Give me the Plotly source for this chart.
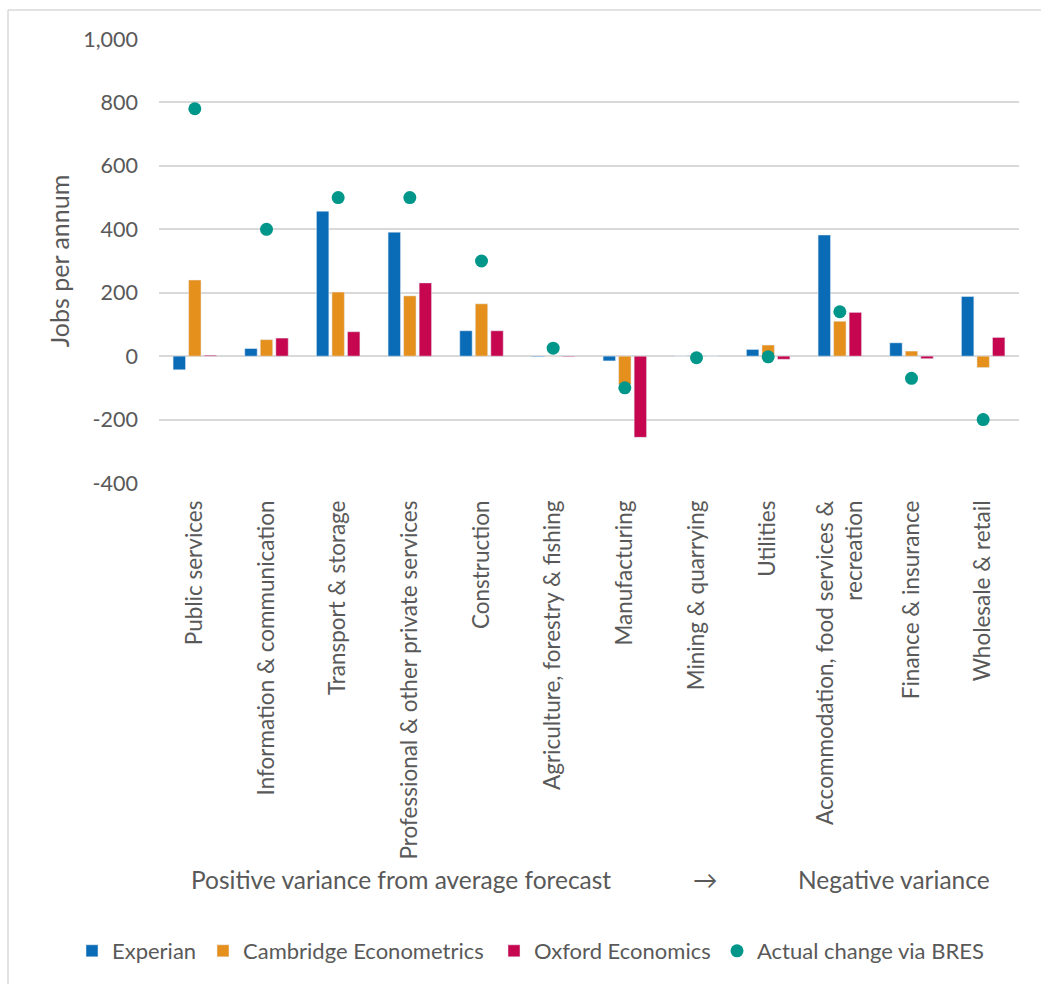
import plotly.graph_objects as go

# Sectors ordered from largest positive to largest negative variance
sectors = [
    "Public services",
    "Information & communication",
    "Transport & storage",
    "Professional & other private services",
    "Construction",
    "Agriculture, forestry & fishing",
    "Manufacturing",
    "Mining & quarrying",
    "Utilities",
    "Accommodation, food services &<br>recreation",
    "Finance & insurance",
    "Wholesale & retail",
]

experian = [-43, 24, 457, 391, 80, -2, -15, 0, 21, 382, 42, 188]
cambridge = [240, 52, 202, 190, 165, -1, -90, 0, 35, 110, 16, -36]
oxford = [3, 57, 77, 231, 80, -2, -256, 0, -10, 138, -8, 59]
bres_actual = [780, 400, 500, 500, 300, 25, -100, -5, -2, 140, -70, -200]

y_ticks = [-400, -200, 0, 200, 400, 600, 800, 1000]
y_tick_text = ["-400", "-200", "0", "200", "400", "600", "800", "1,000"]

FONT = "Lato"
GREY = "#595959"
GRID = "#D9D9D9"

# plot area in pixels: x 159..1019, y 39..483
L, R, T, B = 159, 1019, 39, 483


def px_x(p):
    return (p - L) / (R - L)


def px_y(p):
    return (B - p) / (B - T)


fig = go.Figure()
fig.add_bar(name="Experian", x=sectors, y=experian, marker_color="#0A6BB6",
            legend="legend")
fig.add_bar(name="Cambridge Econometrics", x=sectors, y=cambridge,
            marker_color="#E5901D", legend="legend2")
fig.add_bar(name="Oxford Economics", x=sectors, y=oxford, marker_color="#C6074F",
            legend="legend3")
fig.add_scatter(
    name="Actual change via BRES", x=sectors, y=bres_actual, mode="markers",
    marker=dict(color="#00968A", size=13), legend="legend4",
)

annotations = [
    dict(text="Positive variance from average forecast", x=px_x(401), y=px_y(880)),
    dict(text="\u2192", x=px_x(705), y=px_y(880)),
    dict(text="Negative variance", x=px_x(894), y=px_y(880)),
]
for a in annotations:
    a.update(xref="paper", yref="paper", showarrow=False, xanchor="center",
             yanchor="middle", font=dict(family=FONT, size=24.5, color=GREY))

shapes = [
    dict(type="line", xref="paper", yref="paper", x0=px_x(8), x1=px_x(1041),
         y0=px_y(10), y1=px_y(10), line=dict(color=GRID, width=1.5)),
    dict(type="line", xref="paper", yref="paper", x0=px_x(8), x1=px_x(8),
         y0=px_y(10), y1=px_y(984), line=dict(color=GRID, width=1.5)),
]

# one legend box per series so each entry sits at its own position
legend_text_start = [112, 243, 534, 757]
legends = {}
for i, xs in enumerate(legend_text_start):
    key = "legend" if i == 0 else f"legend{i + 1}"
    legends[key] = dict(
        orientation="h", x=px_x(xs - 40), xanchor="left", y=px_y(951),
        yanchor="middle", font=dict(family=FONT, size=22, color=GREY),
        itemwidth=30, bgcolor="rgba(0,0,0,0)", borderwidth=0,
    )

fig.update_layout(
    width=1041, height=984,
    margin=dict(l=L, r=1041 - R, t=T, b=984 - B, autoexpand=False),
    paper_bgcolor="white", plot_bgcolor="white",
    barmode="group", bargap=0.35, bargroupgap=0.2,
    font=dict(family=FONT, size=22, color=GREY),
    showlegend=True,
    annotations=annotations,
    shapes=shapes,
    **legends,
)

fig.update_xaxes(
    type="category", range=[-0.5, len(sectors) - 0.5], tickangle=-90,
    showgrid=False, showline=False, ticks="",
    ticklabelstandoff=12, tickfont=dict(family=FONT, size=22.5, color=GREY),
    automargin=False,
)
fig.update_yaxes(
    range=[-400, 1000], tickvals=y_ticks, ticktext=y_tick_text,
    showgrid=True, gridcolor=GRID, gridwidth=1.5,
    zeroline=True, zerolinecolor=GRID, zerolinewidth=1.5,
    showline=False, ticks="", ticklabelstandoff=20,
    tickfont=dict(family=FONT, size=21.5, color=GREY),
    title=dict(text="Jobs per annum", standoff=6,
               font=dict(family=FONT, size=25, color=GREY)),
    automargin=False,
)

fig.write_html("out.html")
